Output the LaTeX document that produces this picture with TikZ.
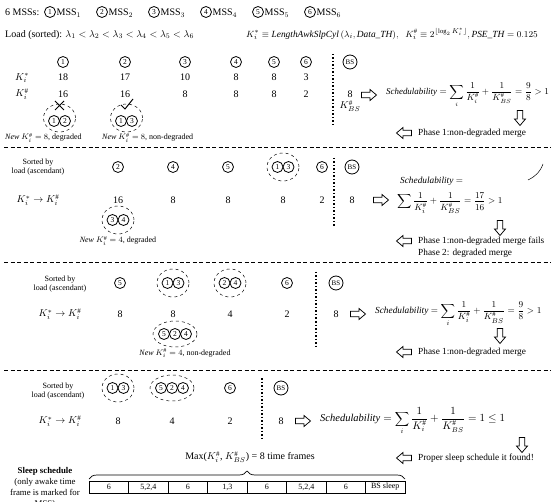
\documentclass[tikz,border=0pt]{standalone}
\usepackage{fontspec}
\setmainfont{Liberation Serif}
\usetikzlibrary{shapes.geometric,decorations.pathreplacing}
\begin{document}
\begin{tikzpicture}[x=1pt,y=-1pt,font=\fontsize{10}{12}\selectfont,
  cnum/.style={circle,draw,line width=0.8pt,inner sep=0pt,minimum size=11pt,font=\fontsize{7.5}{8}\selectfont},
  bsnum/.style={circle,draw,line width=0.8pt,inner sep=0pt,minimum size=14pt,font=\fontsize{7}{8}\selectfont},
  mring/.style={ellipse,draw,dashed,line width=0.5pt,inner sep=0pt},
  sepline/.style={line width=0.9pt,dash pattern=on 4pt off 2.5pt},
  vsep/.style={line width=1.1pt,dash pattern=on 1.5pt off 2pt},
  barrow/.pic={\draw[line width=0.75pt] (-7.5,-2.8) -- (1,-2.8) -- (1,-5.5) -- (7.5,0) -- (1,5.5) -- (1,2.8) -- (-7.5,2.8) -- cycle;},
  txt/.style={inner sep=0pt},
  small/.style={font=\fontsize{8}{9}\selectfont},
  rtxt/.style={inner sep=0pt,anchor=west,font=\fontsize{9.3}{11}\selectfont},
  cell/.style={draw,line width=0.8pt,minimum width=39.5pt,minimum height=12pt,inner sep=0pt,font=\fontsize{8}{9}\selectfont}]
\useasboundingbox (0,0) rectangle (551,502);

% ---------- header ----------
\node[txt,anchor=west] (h0) at (5,12) {6 MSSs:};
\node[cnum] (hc1) at (50,12) {1}; \node[txt,anchor=west] (hm1) at (56.5,13) {MSS$_1$};
\node[cnum] (hc2) at (102,12) {2}; \node[txt,anchor=west] (hm2) at (108.5,13) {MSS$_2$};
\node[cnum] (hc3) at (154,12) {3}; \node[txt,anchor=west] (hm3) at (160.5,13) {MSS$_3$};
\node[cnum] (hc4) at (206,12) {4}; \node[txt,anchor=west] (hm4) at (212.5,13) {MSS$_4$};
\node[cnum] (hc5) at (258,12) {5}; \node[txt,anchor=west] (hm5) at (264.5,13) {MSS$_5$};
\node[cnum] (hc6) at (310,12) {6}; \node[txt,anchor=west] (hm6) at (316.5,13) {MSS$_6$};
\node[txt,anchor=west] (h2) at (5,35) {Load (sorted): $\lambda_1<\lambda_2<\lambda_3<\lambda_4<\lambda_5<\lambda_6$};
\node[txt,anchor=west,font=\fontsize{9.4}{11}\selectfont] (h3) at (246,34) {$K_i^{*}\equiv \mathit{LengthAwkSlpCyl}\,(\lambda_i,\mathit{Data\_TH}),\;\; K_i^{\#}\equiv 2^{\lfloor \log_2 K_i^{*}\rfloor},\mathit{PSE\_TH}=0.125$};

% ---------- section 1 ----------
\node[cnum] (a1) at (63,62) {1};
\node[cnum] (a2) at (125,62) {2};
\node[cnum] (a3) at (185,62) {3};
\node[cnum] (a4) at (236,62) {4};
\node[cnum] (a5) at (274,62) {5};
\node[cnum] (a6) at (306,62) {6};
\node[bsnum] (abs) at (350,62) {BS};
\node[txt] (ak1) at (22,78) {$K_i^{*}$};
\node[txt] (ak2) at (22,94) {$K_i^{\#}$};
\foreach \x/\v [count=\k] in {63/18,125/17,185/10,236/8,274/8,306/3}{
  \node[txt] (av\k) at (\x,77) {\v};}
\foreach \x/\v [count=\k] in {63/16,125/16,185/8,236/8,274/8,306/2}{
  \node[txt] (aw\k) at (\x,94) {\v};}
\node[txt] (abs8) at (350,94) {8};
\node[txt] (absk) at (350,106) {$K_{BS}^{\#}$};
\draw[vsep] (333,54) -- (333,126);
\pic (ar1) at (369,95) {barrow};
\node[txt,anchor=west,font=\fontsize{8.9}{11}\selectfont] (af1) at (386,95) {$\mathit{Schedulability}=\displaystyle\sum_i\frac{1}{K_i^{\#}}+\frac{1}{K_{BS}^{\#}}=\frac{9}{8}>1$};
\pic[rotate=-90] (ad1) at (520,118) {barrow};
\pic[rotate=180] (al1) at (404,133) {barrow};
\node[rtxt] (ap1) at (418,133) {Phase 1:non-degraded merge};
% merges
\node[cnum] (m12a) at (54,121) {1}; \node[cnum] (m12b) at (65,121) {2};
\node[mring,minimum width=32pt,minimum height=28pt] (m12) at (59.5,118) {};
\draw[line width=0.9pt] (55,101) -- (64,110) (64,101) -- (55,110);
\node[cnum] (m13a) at (121,121) {1}; \node[cnum] (m13b) at (132,121) {3};
\node[mring,minimum width=32pt,minimum height=28pt] (m13) at (126.5,118) {};
\draw[line width=1pt] (121,105) -- (125,109) -- (133,99);
\node[txt,anchor=west,small] (an1) at (5,138) {\textit{New} $K_i^{\#}=8$, degraded};
\node[txt,anchor=west,small] (an2) at (102,138) {\textit{New} $K_i^{\#}=8$, non-degraded};
\draw[sepline] (4,147) -- (551,147);

% ---------- section 2 ----------
\node[txt,small,align=center] (bs) at (38,167) {Sorted by\\load (ascendant)};
\node[cnum] (b2) at (118,167) {2};
\node[cnum] (b4) at (173,167) {4};
\node[cnum] (b5) at (228,167) {5};
\node[cnum] (b13a) at (277.5,167) {1}; \node[cnum] (b13b) at (288.5,167) {3};
\node[mring,minimum width=32pt,minimum height=28pt] (b13) at (283,167) {};
\node[cnum] (b6) at (322,167) {6};
\draw[vsep] (334,158) -- (334,226);
\node[bsnum] (bbs) at (352,167) {BS};
\node[txt] (bk) at (38,200) {$K_i^{*}\rightarrow K_i^{\#}$};
\foreach \x/\v [count=\k] in {118/16,173/8,228/8,283/8,322/2,352/8}{
  \node[txt] (bv\k) at (\x,200) {\v};}
\node[cnum] (b34a) at (112.5,220) {3}; \node[cnum] (b34b) at (123.5,220) {4};
\node[mring,minimum width=32pt,minimum height=28pt] (b34) at (118,220) {};
\node[txt,small] (bn) at (118,241) {\textit{New} $K_i^{\#}=4$, degraded};
\pic (br1) at (381,200) {barrow};
\node[rtxt] (bf0) at (400,181) {$\mathit{Schedulability}=$};
\node[rtxt] (bf1) at (397,203) {$\displaystyle\sum\frac{1}{K_i^{\#}}+\frac{1}{K_{BS}^{\#}}=\frac{17}{16}>1$};
\draw[line width=0.5pt] (528,180) .. controls (536,176) and (540,172) .. (543,164);
\pic[rotate=-90] (bd1) at (500,228) {barrow};
\pic[rotate=180] (bl1) at (404,241) {barrow};
\node[rtxt] (bp1) at (418,241) {Phase 1:non-degraded merge fails};
\node[rtxt] (bp2) at (418,253) {Phase 2: degraded merge};
\draw[sepline] (4,262) -- (551,262);

% ---------- section 3 ----------
\node[txt,small,align=center] (cs) at (60,284) {Sorted by\\load (ascendant)};
\node[cnum] (c5) at (120,283) {5};
\node[cnum] (c13a) at (167.5,283) {1}; \node[cnum] (c13b) at (178.5,283) {3};
\node[mring,minimum width=32pt,minimum height=28pt] (c13) at (173,283) {};
\node[cnum] (c24a) at (224.5,283) {2}; \node[cnum] (c24b) at (235.5,283) {4};
\node[mring,minimum width=32pt,minimum height=28pt] (c24) at (230,283) {};
\node[cnum] (c6) at (287,283) {6};
\draw[vsep] (316,272) -- (316,348);
\node[bsnum] (cbs) at (336,283) {BS};
\node[txt] (ck) at (60,314) {$K_i^{*}\rightarrow K_i^{\#}$};
\foreach \x/\v [count=\k] in {120/8,173/8,230/4,287/2,336/8}{
  \node[txt] (cv\k) at (\x,314) {\v};}
\node[cnum] (c524a) at (164,334) {5}; \node[cnum] (c524b) at (175,334) {2}; \node[cnum] (c524c) at (186,334) {4};
\node[mring,minimum width=44pt,minimum height=26pt] (c524) at (175,334) {};
\node[txt,small] (cn) at (185,353) {\textit{New} $K_i^{\#}=4$, non-degraded};
\pic (cr1) at (358,314) {barrow};
\node[rtxt] (cf1) at (375,314) {$\mathit{Schedulability}=\displaystyle\sum_i\frac{1}{K_i^{\#}}+\frac{1}{K_{BS}^{\#}}=\frac{9}{8}>1$};
\pic[rotate=-90] (cd1) at (500,336) {barrow};
\pic[rotate=180] (cl1) at (404,352) {barrow};
\node[rtxt] (cp1) at (418,352) {Phase 1:non-degraded merge};
\draw[sepline] (4,370) -- (551,370);

% ---------- section 4 ----------
\node[txt,small,align=center] (ds) at (58,391) {Sorted by\\load (ascendant)};
\node[cnum] (d13a) at (112.5,388) {1}; \node[cnum] (d13b) at (123.5,388) {3};
\node[mring,minimum width=32pt,minimum height=28pt] (d13) at (118,388) {};
\node[cnum] (d524a) at (161,388) {5}; \node[cnum] (d524b) at (172,388) {2}; \node[cnum] (d524c) at (183,388) {4};
\node[mring,minimum width=44pt,minimum height=26pt] (d524) at (172,388) {};
\node[cnum] (d6) at (230,388) {6};
\draw[vsep] (262,378) -- (262,440);
\node[bsnum] (dbs) at (281,388) {BS};
\node[txt] (dk) at (60,421) {$K_i^{*}\rightarrow K_i^{\#}$};
\foreach \x/\v [count=\k] in {118/8,172/4,230/2,281/8}{
  \node[txt] (dv\k) at (\x,421) {\v};}
\pic (dr1) at (303,421) {barrow};
\node[txt,anchor=west,font=\fontsize{10.5}{12}\selectfont] (df1) at (320,421) {$\mathit{Schedulability}=\displaystyle\sum_i\frac{1}{K_i^{\#}}+\frac{1}{K_{BS}^{\#}}=1\leq 1$};
\pic[rotate=-90] (dd1) at (522,445) {barrow};
\pic[rotate=180] (dl1) at (404,458) {barrow};
\node[rtxt] (dp1) at (418,458) {Proper sleep schedule it found!};
\node[txt] (dmax) at (250,457) {Max($K_i^{\#}$, $K_{BS}^{\#}$) = 8 time frames};

% ---------- schedule table ----------
\foreach \v [count=\k] in {6,{5,2,4},6,{1,3},6,{5,2,4},6,BS sleep}{
  \node[cell] (t\k) at ({89+39.5*(\k-0.5)},487) {\v};}
\draw[line width=0.7pt,decorate,decoration={brace,amplitude=8pt}] (89,479) -- (405,479);
\node[txt,align=center,font=\fontsize{8.8}{11}\selectfont] (sl) at (45,488) {\textbf{Sleep schedule}\\(only awake time\\frame is marked for\\MSS)};
\end{tikzpicture}
\end{document}
